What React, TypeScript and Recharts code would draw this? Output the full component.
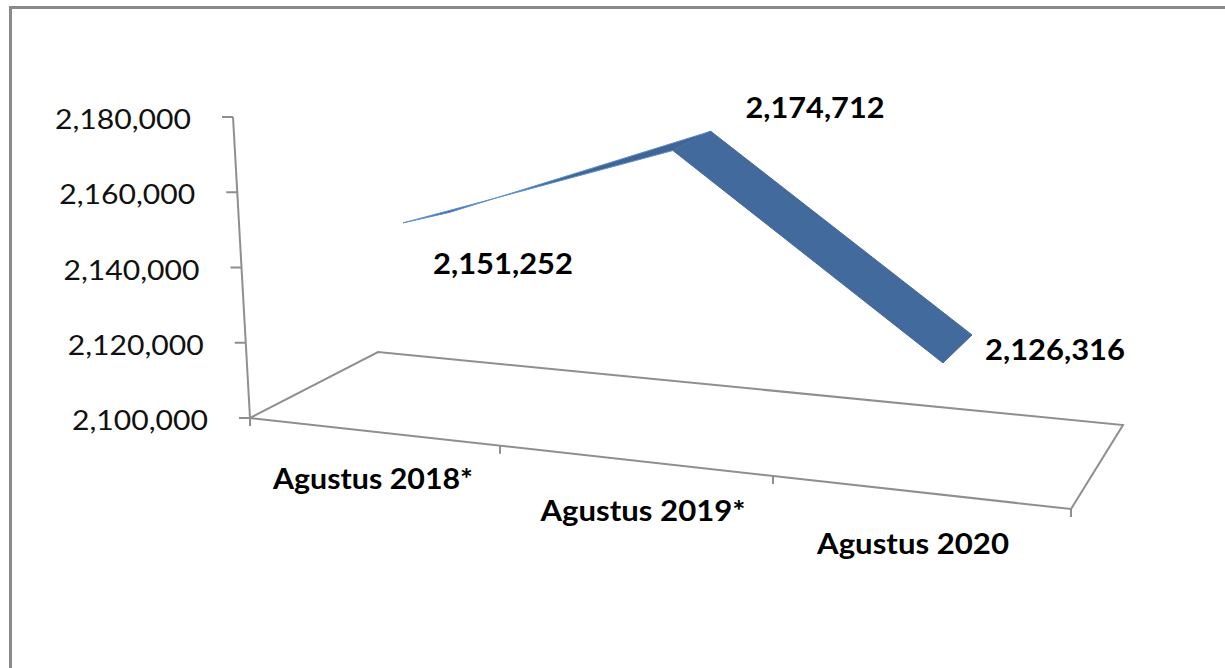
import { LineChart, Line, XAxis, YAxis, Customized } from "recharts";

const categories = ["Agustus 2018*", "Agustus 2019*", "Agustus 2020"];
const workers = [2151252, 2174712, 2126316];
const yTicks = [2100000, 2120000, 2140000, 2160000, 2180000];

const data = categories.map((month, i) => ({ month, value: workers[i] }));

// back wall axis is a bit shorter than the ribbon's scale (perspective)
const WALL_PAD = 2126;
const wallDomain = [yTicks[0] - WALL_PAD, yTicks[yTicks.length - 1] + WALL_PAD];

const FONT = "Lato, 'Open Sans', sans-serif";
const BLUE = "#436A9C";
const GREY = "#8f8f8f";

// fake 3D: wall shear and depth vector of the ribbon
const SHEAR = 0.0763;
const depth = (x: number) => ({
  dx: 38 - (x - 665) * 0.0324,
  dy: -19 - (x - 665) * 0.0324,
});
const labelOffsets = [
  [100, 41],
  [142, -43],
  [112, -13],
];
const labelWidths = [140, 139, 140];

const fmt = (v: number) => v.toLocaleString("en-US");

function Ribbon(props: any) {
  const { index, points } = props;
  if (index !== 0 || !points) return <g key={`dot-${index}`} />;
  const x0 = points[0].x;
  const front = points.map((p: any) => ({ x: p.x, y: p.y + SHEAR * (p.x - x0), value: p.value }));
  const back = front.map((p: any) => {
    const d = depth(p.x);
    return { x: p.x + d.dx, y: p.y + d.dy };
  });
  const segs = front.slice(0, -1).map((f: any, i: number) => [f, front[i + 1], back[i + 1], back[i]]);
  return (
    <g key="ribbon">
      {segs.map((s: any[], i: number) => (
        <polygon
          key={i}
          points={s.map((p) => `${p.x},${p.y}`).join(" ")}
          fill={i === 0 ? "#3F6594" : BLUE}
          stroke={i === 0 ? "#5E90D2" : BLUE}
          strokeWidth={1}
        />
      ))}
      {front.map((p: any, i: number) => (
        <text
          key={`l-${i}`}
          x={p.x + labelOffsets[i][0] - labelWidths[i] / 2}
          y={p.y + labelOffsets[i][1] + 10}
          fontFamily={FONT}
          fontWeight={700}
          fontSize={28}
          fill="#000"
          textLength={labelWidths[i]}
          lengthAdjust="spacingAndGlyphs"
        >
          {fmt(p.value)}
        </text>
      ))}
    </g>
  );
}

const wallX = (y: number) => 233 + ((y - 117) * 17) / 301;

function WallTick(props: any) {
  const { y, payload } = props;
  const ax = wallX(y);
  return (
    <g>
      <line x1={ax - 11} y1={y} x2={ax} y2={y} stroke={GREY} strokeWidth={2} />
      <text
        x={ax - 42 - 136}
        y={y + 12}
        fontFamily={FONT}
        fontSize={26}
        fill="#111"
        textLength={136}
        lengthAdjust="spacingAndGlyphs"
      >
        {fmt(payload.value)}
      </text>
    </g>
  );
}

const catWidths = [200, 205, 192];

function CategoryTick(props: any) {
  const { x, payload, index } = props;
  const lx = x - 30;
  const ly = 418 + (lx - 250) * 0.12 + 56;
  const w = catWidths[index] ?? 200;
  return (
    <text
      x={lx - w / 2}
      y={ly}
      fontFamily={FONT}
      fontWeight={700}
      fontSize={28}
      fill="#000"
      textLength={w}
      lengthAdjust="spacingAndGlyphs"
    >
      {payload.value}
    </text>
  );
}

function Floor() {
  const fl = [250, 418];
  const bl = [378, 352];
  const br = [1123, 425];
  const fr = [1071, 509];
  const edgeY = (x: number) => fl[1] + ((x - fl[0]) * (fr[1] - fl[1])) / (fr[0] - fl[0]);
  const ticks = [250, 500, 773, 1071];
  return (
    <g>
      <rect x={10.5} y={7.5} width={1300} height={800} fill="none" stroke="#8a8a8a" strokeWidth={3} />
      <line x1={233} y1={117} x2={250} y2={418} stroke={GREY} strokeWidth={2} />
      <polygon
        points={[fl, bl, br, fr].map((p) => p.join(",")).join(" ")}
        fill="none"
        stroke={GREY}
        strokeWidth={2}
      />
      {ticks.map((tx) => (
        <line key={tx} x1={tx} y1={edgeY(tx)} x2={tx} y2={edgeY(tx) + 8} stroke={GREY} strokeWidth={2} />
      ))}
    </g>
  );
}

export default function App() {
  return (
    <div style={{ position: "absolute", left: 0, top: 0, width: 1225, height: 668, background: "#fff" }}>
      <LineChart width={1225} height={668} data={data} margin={{ top: 109, right: 282, bottom: 212, left: 368 }}>
        <Customized component={Floor} />
        <XAxis
          dataKey="month"
          axisLine={false}
          tickLine={false}
          height={30}
          interval={0}
          tick={(p: any) => <CategoryTick {...p} />}
        />
        <YAxis
          yAxisId="wall"
          domain={wallDomain}
          ticks={yTicks}
          interval={0}
          width={35}
          axisLine={false}
          tickLine={false}
          tick={(p: any) => <WallTick {...p} />}
        />
        <YAxis yAxisId="ribbon" hide domain={[2100000, 2180000]} />
        {/* invisible series so the wall axis has something bound to it */}
        <Line yAxisId="wall" dataKey="value" stroke="none" dot={false} activeDot={false} isAnimationActive={false} />
        <Line
          yAxisId="ribbon"
          dataKey="value"
          stroke="none"
          isAnimationActive={false}
          dot={(p: any) => <Ribbon key={`dot-${p.index}`} {...p} />}
          activeDot={false}
        />
      </LineChart>
    </div>
  );
}
